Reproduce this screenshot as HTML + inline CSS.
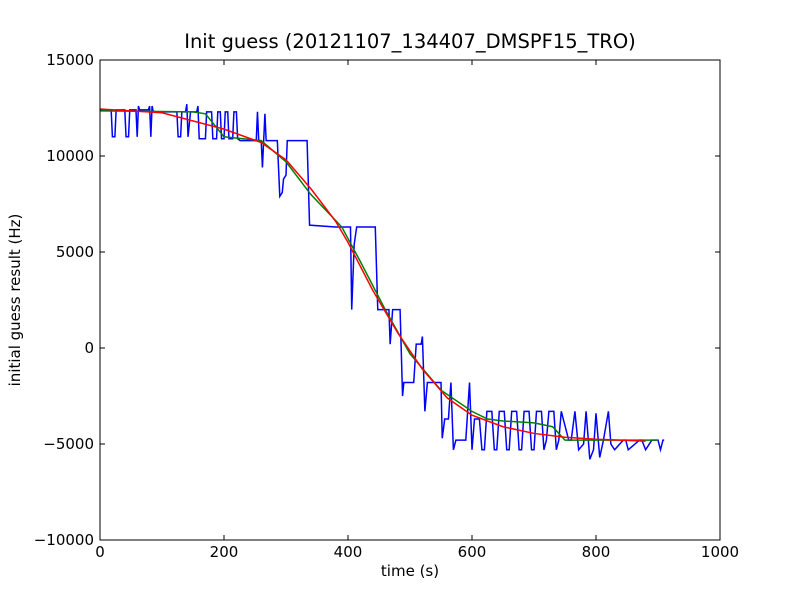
<!DOCTYPE html>
<html><head><meta charset="utf-8"><style>
body{margin:0;background:#fff;font-family:"Liberation Sans","DejaVu Sans",sans-serif}
svg text{font-family:"DejaVu Sans","Liberation Sans",sans-serif;font-size:15px;fill:#000}
</style></head><body>
<svg id="chart" width="800" height="600">
<rect width="800" height="600" fill="#fff"/>
<text x="410" y="48" text-anchor="middle" style="font-size:19.5px">Init guess (20121107_134407_DMSPF15_TRO)</text>
<g id="plot"></g>
<rect x="100" y="60" width="620" height="480" fill="none" stroke="#000" stroke-width="1"/>
<g id="axes"></g>
<text x="410" y="576" text-anchor="middle">time (s)</text>
<text transform="translate(20,300) rotate(-90)" text-anchor="middle">initial guess result (Hz)</text>
</svg>
<script>
const xTicks=[0,200,400,600,800,1000];
const yTicks=[-10000,-5000,0,5000,10000,15000];
const blueT=[0,18,20,24,26,40,42,46,48,58,60,62,64,78,80,82,84,86,124,126,130,132,138,140,142,146,156,158,160,170,172,180,182,188,190,194,196,200,202,206,208,214,216,220,222,226,252,254,256,260,262,264,266,268,286,290,294,296,300,302,334,338,380,404,406,410,414,444,448,466,468,472,484,488,490,506,510,518,520,524,528,550,552,556,562,566,570,574,590,596,600,604,612,616,620,624,632,636,640,644,652,656,660,664,672,676,680,684,692,696,700,704,712,716,720,724,732,736,740,744,756,760,766,772,780,784,790,796,800,806,812,820,824,830,844,848,852,870,874,880,890,894,900,904,908,910];
const blueF=[12400,12400,11000,11000,12400,12400,11000,11000,12400,12400,11000,12600,12400,12400,12600,11000,12600,12300,12300,11000,11000,12300,12300,12700,11000,12300,12300,12600,10900,10900,12300,12300,10900,10900,12300,12300,10900,10900,12300,12300,10900,10900,12300,12300,10900,10800,10800,12300,10800,10800,9400,10800,12200,10800,10800,7900,8100,8800,9000,10800,10800,6400,6300,6300,2000,5400,6300,6300,2000,2000,200,2000,2000,-2500,-1800,-1800,200,200,600,-3300,-1800,-1800,-4700,-3700,-3700,-1800,-5300,-4800,-4800,-1800,-5300,-3700,-3700,-5300,-5300,-3300,-3300,-5300,-5300,-3300,-3300,-5300,-5300,-3300,-3300,-5300,-5300,-3300,-3300,-5300,-5300,-3300,-3300,-5300,-4800,-3300,-3300,-5300,-4800,-3300,-4800,-4800,-3300,-5300,-5000,-3300,-5800,-5300,-3400,-5700,-4800,-3300,-5000,-5300,-4800,-4800,-5300,-4800,-4800,-5300,-4800,-4800,-4800,-5300,-4800,-4800,-5300,-5300];
const greenT=[0,150,170,200,260,300,340,390,420,460,500,550,600,625,650,700,730,750,900];
const greenF=[12350,12300,12200,11000,10800,9700,8000,6300,4500,2000,-300,-2200,-3300,-3700,-3800,-3900,-4100,-4800,-4800];
const redT=[0,100,200,260,300,340,380,400,440,480,520,560,600,650,700,750,800,880];
const redF=[12450,12250,11400,10700,9800,8300,6600,5500,3000,800,-1100,-2600,-3500,-4100,-4450,-4650,-4750,-4850];
const X=t=>100+t*0.62, Y=f=>348-f*96/5000;
const NS="http://www.w3.org/2000/svg";
const plot=document.getElementById('plot'), axes=document.getElementById('axes');
function line(ts,fs,col,name){
  const p=document.createElementNS(NS,'polyline');
  p.setAttribute('points',ts.map((t,i)=>X(t)+','+Y(fs[i])).join(' '));
  p.setAttribute('fill','none');p.setAttribute('stroke',col);p.setAttribute('stroke-width','1.5');
  
  
  plot.appendChild(p);
}
line(blueT,blueF,'#0000ff','series-blue');
line(greenT,greenF,'#008000','series-green');
line(redT,redF,'#ff0000','series-red');
xTicks.forEach(v=>{
  const x=X(v);
  const l=document.createElementNS(NS,'path');
  l.setAttribute('d',`M${x},540v-5M${x},60v5`);l.setAttribute('stroke','#000');
  
  
  axes.appendChild(l);
  const t=document.createElementNS(NS,'text');
  t.setAttribute('x',x);t.setAttribute('y',557);t.setAttribute('text-anchor','middle');t.textContent=v;
  
  
  axes.appendChild(t);
});
yTicks.forEach(v=>{
  const y=Y(v);
  const l=document.createElementNS(NS,'path');
  l.setAttribute('d',`M100,${y}h5M720,${y}h-5`);l.setAttribute('stroke','#000');
  
  
  axes.appendChild(l);
  const t=document.createElementNS(NS,'text');
  t.setAttribute('x',94);t.setAttribute('y',y+5);t.setAttribute('text-anchor','end');t.textContent=v<0?'\u2212'+(-v):v;
  
  
  axes.appendChild(t);
});
</script>
</body></html>
